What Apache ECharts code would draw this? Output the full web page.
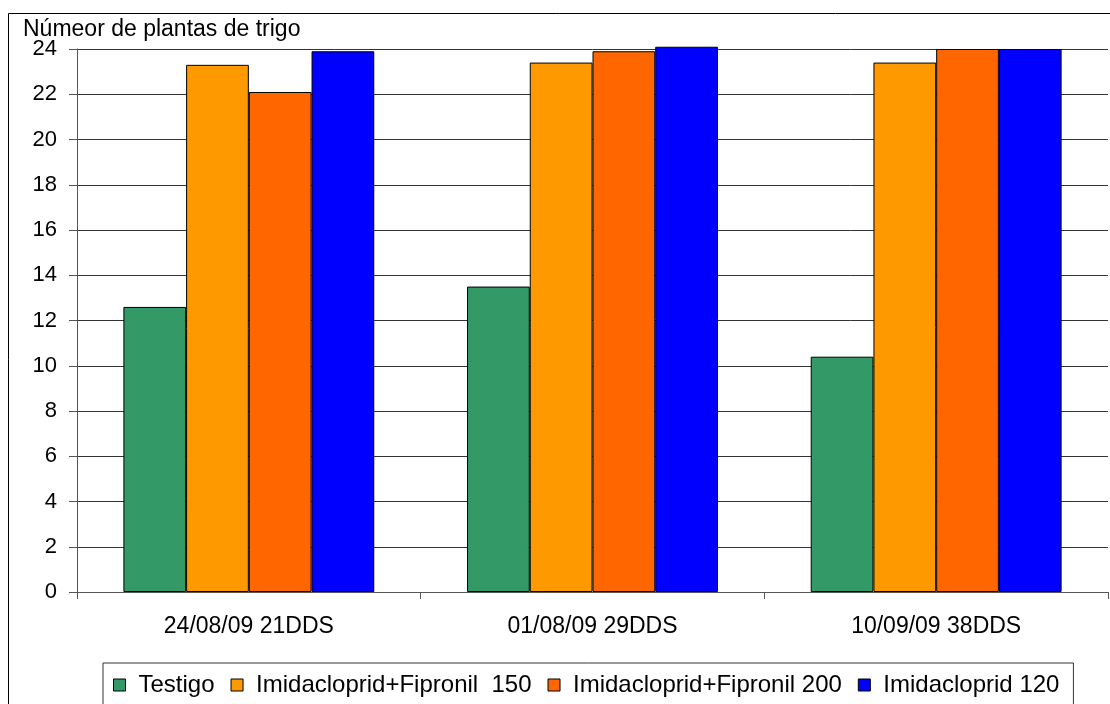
<!DOCTYPE html>
<html><head><meta charset="utf-8">
<script src="https://cdn.jsdelivr.net/npm/echarts@6/dist/echarts.min.js"></script>
<style>html,body{margin:0;padding:0;background:#fff}#c{width:1110px;height:704px}</style>
</head><body><div id="c"></div>
<script>
const categories = ['24/08/09 21DDS', '01/08/09 29DDS', '10/09/09 38DDS'];
const seriesNames = ['Testigo', 'Imidacloprid+Fipronil  150', 'Imidacloprid+Fipronil 200', 'Imidacloprid 120'];
const testigo = [12.6, 13.5, 10.4];
const imiFip150 = [23.3, 23.4, 23.4];
const imiFip200 = [22.1, 23.9, 24.0];
const imi120 = [23.9, 24.1, 24.0];
const yTicks = [0, 24, 2];
const colors = ['#339966', '#FF9900', '#FF6600', '#0000FF'];
const values = [testigo, imiFip150, imiFip200, imi120];

const chart = echarts.init(document.getElementById('c'));
const font = 'Liberation Sans, Arial, sans-serif';
chart.setOption({
  animation: false,
  backgroundColor: '#fff',
  textStyle: { fontFamily: font },
  graphic: [
    { type: 'rect', shape: { x: 8.5, y: 13.5, width: 1200, height: 800 }, style: { fill: null, stroke: '#000', lineWidth: 1 }, z: -1 },
    { type: 'text', left: 23, top: 18, style: { text: 'Númeor de plantas de trigo', font: '23px ' + font, fill: '#000' } }
  ],
  grid: { left: 77, right: 2, top: 49, bottom: 112 },
  legend: {
    top: 663, left: 103,
    data: seriesNames,
    itemWidth: 12, itemHeight: 12, itemGap: 16,
    padding: [10, 14, 30, 10],
    borderColor: '#333', borderWidth: 1,
    textStyle: { fontSize: 24, color: '#000', fontFamily: font, padding: [0, 0, 0, 8] },
    icon: 'rect',
    itemStyle: { borderColor: '#000', borderWidth: 1 }
  },
  xAxis: {
    type: 'category', data: categories,
    axisLine: { lineStyle: { color: '#555' } },
    axisTick: { show: true, length: 7, lineStyle: { color: '#555' } },
    axisLabel: { fontSize: 23, color: '#000', margin: 23 },
    splitLine: { show: false }
  },
  yAxis: {
    type: 'value', min: yTicks[0], max: yTicks[1], interval: yTicks[2],
    axisLine: { show: true, lineStyle: { color: '#555' } },
    axisTick: { show: true, length: 8, lineStyle: { color: '#555' } },
    axisLabel: { fontSize: 22, color: '#000', margin: 20 },
    splitLine: { lineStyle: { color: '#333', width: 1 } }
  },
  series: seriesNames.map((n, i) => ({
    name: n, type: 'bar', data: values[i],
    barGap: '0%', barCategoryGap: '27%', clip: false,
    itemStyle: { color: colors[i], borderColor: '#000', borderWidth: 1 }
  }))
});
</script></body></html>
